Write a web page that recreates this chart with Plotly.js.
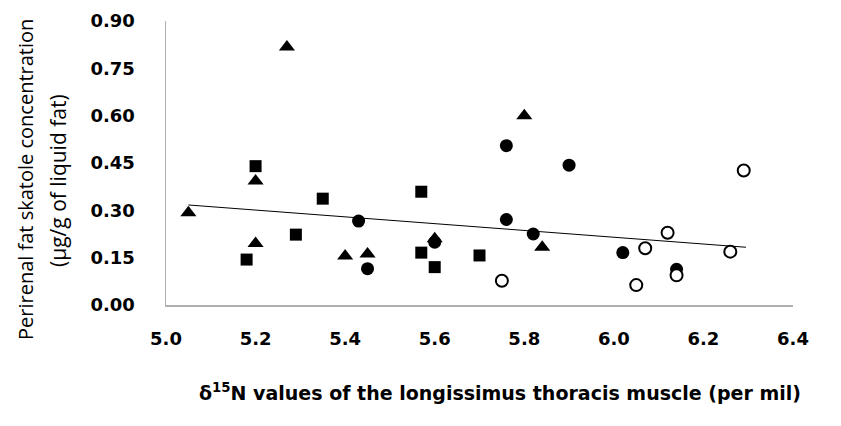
<!DOCTYPE html>
<html>
<head>
<meta charset="utf-8">
<script src="https://cdn.plot.ly/plotly-3.0.1.min.js"></script>
<style>html,body{margin:0;padding:0;background:#fff;}#chart{width:841px;height:426px;}</style>
</head>
<body>
<div id="chart"></div>
<script>
// Filled squares
const squareX = [5.20, 5.35, 5.29, 5.18, 5.57, 5.57, 5.60, 5.70];
const squareY = [0.440, 0.337, 0.223, 0.144, 0.359, 0.166, 0.120, 0.157];
// Filled triangles
const triX = [5.05, 5.27, 5.20, 5.20, 5.40, 5.45, 5.60, 5.80, 5.84];
const triY = [0.292, 0.818, 0.393, 0.195, 0.155, 0.162, 0.210, 0.600, 0.183];
// Filled circles
const dotX = [5.43, 5.45, 5.60, 5.76, 5.90, 5.76, 5.82, 6.02, 6.14];
const dotY = [0.266, 0.115, 0.199, 0.505, 0.443, 0.271, 0.225, 0.166, 0.113];
// Open circles
const ringX = [5.75, 6.07, 6.12, 6.05, 6.14, 6.26, 6.29];
const ringY = [0.077, 0.180, 0.229, 0.063, 0.094, 0.169, 0.426];
// Linear trend line (end points)
const trendX = [5.05, 6.295];
const trendY = [0.317, 0.183];

const xTickVals = [5.0, 5.2, 5.4, 5.6, 5.8, 6.0, 6.2, 6.4];
const yTickVals = [0.00, 0.15, 0.30, 0.45, 0.60, 0.75, 0.90];

const yTitle1 = 'Perirenal fat skatole concentration';
const yTitle2 = '(µg/g of liquid fat)';
const xTitle = 'δ<sup>15</sup>N values of the longissimus thoracis muscle (per mil)';

const msize = 13;
const traces = [
  {x: trendX, y: trendY, mode: 'lines', line: {color: '#000', width: 1}, hoverinfo: 'skip'},
  {x: squareX, y: squareY, mode: 'markers', marker: {symbol: 'square', size: msize - 1, color: '#000'}},
  {x: triX, y: triY, mode: 'markers', marker: {symbol: 'triangle-up', size: msize + 1, color: '#000'}},
  {x: dotX, y: dotY, mode: 'markers', marker: {symbol: 'circle', size: msize, color: '#000'}},
  {x: ringX, y: ringY, mode: 'markers', marker: {symbol: 'circle', size: msize - 1, color: '#fff', line: {color: '#000', width: 2}}}
];

const tickFont = {family: 'DejaVu Sans', size: 18, color: '#000', weight: 'bold'};

const layout = {
  width: 841, height: 426,
  margin: {l: 166, r: 48, t: 21, b: 121},
  paper_bgcolor: '#fff', plot_bgcolor: '#fff',
  showlegend: false,
  xaxis: {
    range: [5.0, 6.4], tickvals: xTickVals, tickformat: '.1f',
    showgrid: false, zeroline: false, showline: true, linecolor: '#b0b0b0', linewidth: 1.5,
    ticks: '', ticklabelstandoff: 17, tickfont: tickFont
  },
  yaxis: {
    range: [0, 0.9], tickvals: yTickVals, tickformat: '.2f',
    showgrid: false, zeroline: false, showline: true, linecolor: '#b0b0b0', linewidth: 1.5,
    ticks: '', ticklabelstandoff: 26, tickfont: tickFont
  },
  annotations: [
    {text: yTitle1, xref: 'paper', yref: 'paper', x: (25 - 166) / 627, y: (305 - 180) / 284,
     xanchor: 'center', yanchor: 'middle', textangle: -90, showarrow: false,
     font: {family: 'Open Sans', size: 20, color: '#000'}},
    {text: yTitle2, xref: 'paper', yref: 'paper', x: (58 - 166) / 627, y: (305 - 181) / 284,
     xanchor: 'center', yanchor: 'middle', textangle: -90, showarrow: false,
     font: {family: 'Open Sans', size: 21, color: '#000'}},
    {text: xTitle, xref: 'paper', yref: 'paper', x: (500 - 166) / 627, y: (305 - 392) / 284,
     xanchor: 'center', yanchor: 'middle', showarrow: false,
     font: {family: 'DejaVu Sans', size: 19, color: '#000', weight: 'bold'}}
  ]
};

Plotly.newPlot('chart', traces, layout, {displayModeBar: false, staticPlot: true});
</script>
</body>
</html>
